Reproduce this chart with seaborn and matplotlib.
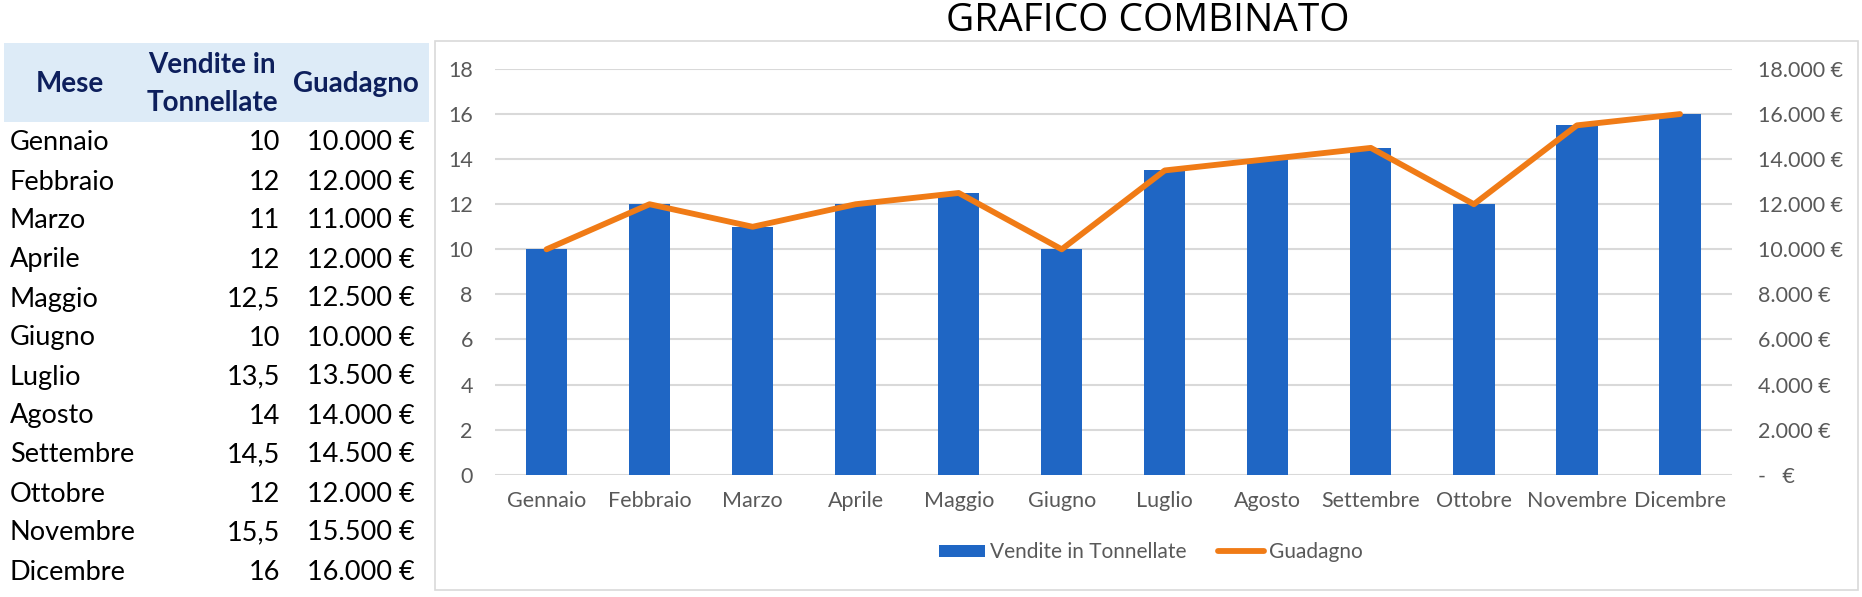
import numpy as np
import pandas as pd
import matplotlib
matplotlib.use("Agg")
import matplotlib.pyplot as plt
from matplotlib.patches import Rectangle, Patch
from matplotlib.lines import Line2D
from matplotlib.ticker import FuncFormatter, MultipleLocator
import seaborn as sns

# dati
mesi = ["Gennaio", "Febbraio", "Marzo", "Aprile", "Maggio", "Giugno",
        "Luglio", "Agosto", "Settembre", "Ottobre", "Novembre", "Dicembre"]
vendite = [10, 12, 11, 12, 12.5, 10, 13.5, 14, 14.5, 12, 15.5, 16]
guadagno = [10000, 12000, 11000, 12000, 12500, 10000,
            13500, 14000, 14500, 12000, 15500, 16000]
intestazioni = ["Mese", "Vendite in\nTonnellate", "Guadagno"]
titolo = "GRAFICO COMBINATO"

BLU = "#1F66C4"
ARANCIO = "#F07B16"
GRIGIO = "#595959"
LINEE = "#D9D9D9"

W, H = 1862, 597


def fx(x):
    return x / W


def fy(y):
    return 1 - y / H


def euro(v):
    if v == 0:
        return "-   €"
    return f"{v:,.0f}".replace(",", ".") + " €"


def num_it(v):
    return f"{v:g}".replace(".", ",")


df = pd.DataFrame({"Mese": mesi, "Vendite in Tonnellate": vendite,
                   "Guadagno": guadagno})
df["pos"] = np.arange(len(mesi))

sns.set_theme(style="white")
plt.rcParams["font.family"] = ["Lato", "DejaVu Sans"]

fig = plt.figure(figsize=(W / 100, H / 100), dpi=100)

# tabella a sinistra
fig.add_artist(Rectangle((fx(4), fy(122)), 425 / W, 79 / H, transform=fig.transFigure,
                         facecolor="#DDEBF7", edgecolor="none"))
head_x = [70, 212, 356]
for hx, txt in zip(head_x, intestazioni):
    fig.text(fx(hx), fy(84), txt, ha="center", va="center", fontsize=20,
             fontweight="bold", color="#0D1F5C", linespacing=1.55)
for i, (m, v, g) in enumerate(zip(mesi, vendite, guadagno)):
    y = fy(143 + 39 * i)
    fig.text(fx(10), y, m, ha="left", va="center", fontsize=19.5, color="black")
    fig.text(fx(280), y, num_it(v), ha="right", va="center", fontsize=19.5, color="black")
    fig.text(fx(415), y, euro(g), ha="right", va="center", fontsize=19.5, color="black")

# riquadro del grafico
fig.add_artist(Rectangle((fx(435), fy(590)), (1858 - 435) / W, (590 - 41) / H,
                         transform=fig.transFigure, fill=False, edgecolor=LINEE,
                         linewidth=1.2))
fig.text(fx(1147.5), fy(21), titolo, ha="center", va="center", fontsize=28,
         color="black", family=["Open Sans", "DejaVu Sans"])

ax = fig.add_axes([fx(495), fy(474.7), (1731.5 - 495) / W, (474.7 - 69) / H])
sns.barplot(data=df, x="Mese", y="Vendite in Tonnellate", color=BLU, width=0.4,
            saturation=1, linewidth=0, ax=ax)
ax.set_axisbelow(True)
ax.yaxis.grid(True, color=LINEE, linewidth=1.5)
ax.xaxis.grid(False)
ax.set_ylim(0, 18)
ax.yaxis.set_major_locator(MultipleLocator(2))
ax.set_xlabel("")
ax.set_ylabel("")

ax2 = ax.twinx()
sns.lineplot(data=df, x="pos", y="Guadagno", ax=ax2, color=ARANCIO, linewidth=4.2,
             solid_capstyle="round", solid_joinstyle="round", legend=False)
ax2.set_ylim(0, 18000)
ax2.yaxis.set_major_locator(MultipleLocator(2000))
ax2.yaxis.set_major_formatter(FuncFormatter(lambda v, p: euro(v)))
ax2.set_ylabel("")
ax.set_xlim(-0.5, len(mesi) - 0.5)

for a in (ax, ax2):
    for s in a.spines.values():
        s.set_visible(False)
ax.tick_params(axis="x", length=0, pad=12, labelsize=15.5, labelcolor=GRIGIO)
ax.tick_params(axis="y", length=0, pad=16, labelsize=15.5, labelcolor=GRIGIO)
ax2.tick_params(axis="y", length=0, pad=19, labelsize=15.5, labelcolor=GRIGIO)

fig.legend(handles=[Patch(facecolor=BLU, edgecolor="none"),
                    Line2D([0], [0], color=ARANCIO, lw=4.2, solid_capstyle="round")],
           labels=["Vendite in Tonnellate", "Guadagno"], loc="center",
           bbox_to_anchor=(fx(1151), fy(552)), ncol=2, frameon=False, fontsize=15,
           handlelength=2.2, handleheight=0.5, handletextpad=0.25, columnspacing=1.5,
           labelcolor=GRIGIO)

fig.savefig("out.png", dpi=100)
